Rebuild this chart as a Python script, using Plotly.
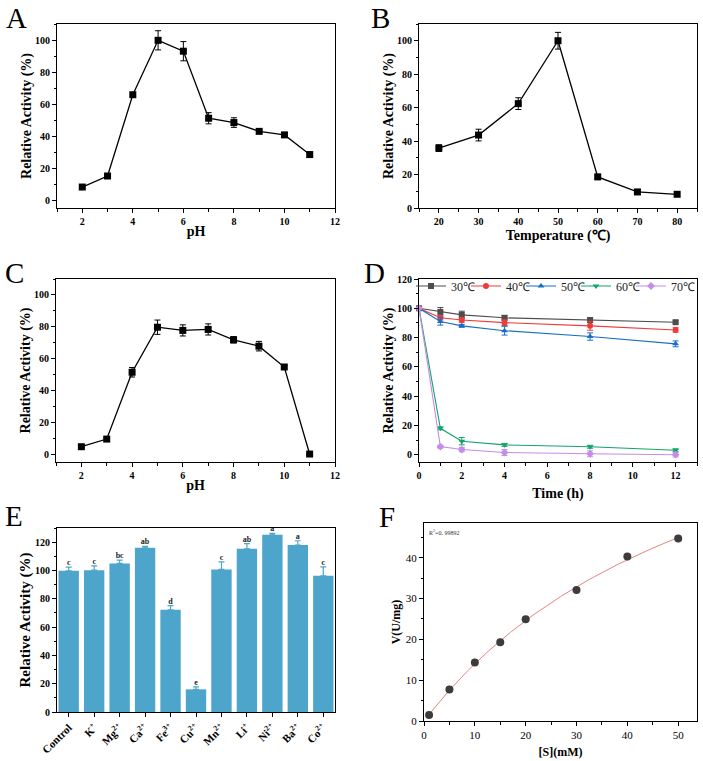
import numpy as np
import plotly.graph_objects as go

FONT = "Liberation Serif, Times New Roman, serif"

# ---------------- data ----------------
# A: effect of pH on activity
ph = [2, 3, 4, 5, 6, 7, 8, 9, 10, 11]
act_ph = [8.1, 15.0, 65.8, 99.8, 93.0, 51.1, 48.4, 42.9, 40.7, 28.4]
err_ph = [0.8, 1.0, 1.0, 6.0, 6.0, 3.5, 3.0, 1.0, 1.0, 1.5]

# B: effect of temperature on activity
temp = [20, 30, 40, 50, 60, 70, 80]
act_temp = [35.8, 43.6, 62.4, 100.0, 18.6, 9.6, 8.2]
err_temp = [2.0, 3.5, 3.5, 5.0, 1.5, 1.5, 1.0]

# C: pH stability
ph_stab = [2, 3, 4, 5, 6, 7, 8, 9, 10, 11]
act_ph_stab = [4.6, 9.4, 51.4, 79.7, 77.7, 78.3, 71.8, 67.8, 54.7, 0.0]
err_ph_stab = [0.5, 1.0, 3.0, 4.5, 3.5, 3.5, 2.0, 3.0, 1.0, 0.5]

# D: thermostability
time_h = [0, 1, 2, 4, 8, 12]
therm_labels = ["30℃", "40℃", "50℃", "60℃", "70℃"]
therm_30 = [100, 97.5, 95.5, 93.5, 92.0, 90.5]
therm_40 = [100, 93.5, 92.0, 90.2, 88.0, 85.2]
therm_50 = [100, 91.0, 88.0, 84.7, 80.7, 75.7]
therm_60 = [100, 18.0, 9.2, 6.7, 5.4, 3.0]
therm_70 = [100, 5.5, 3.5, 1.5, 0.6, 0.0]
therm_err_30 = [0.5, 3.0, 2.5, 1.5, 1.5, 1.0]
therm_err_40 = [0.5, 1.5, 1.5, 2.0, 3.0, 1.5]
therm_err_50 = [0.5, 2.5, 1.0, 3.0, 2.5, 2.0]
therm_err_60 = [0.5, 1.0, 2.5, 1.0, 1.0, 1.0]
therm_err_70 = [0.5, 1.0, 1.5, 2.0, 2.0, 1.5]

# E: metal ions
ions = ["Control", "K<sup>+</sup>", "Mg<sup>2+</sup>", "Ca<sup>2+</sup>", "Fe<sup>3+</sup>",
        "Cu<sup>2+</sup>", "Mn<sup>2+</sup>", "Li<sup>+</sup>", "Ni<sup>2+</sup>",
        "Ba<sup>2+</sup>", "Co<sup>2+</sup>"]
ion_act = [99.8, 100.2, 105.0, 116.0, 72.2, 16.0, 100.7, 115.3, 125.2, 118.0, 96.2]
ion_err = [2.5, 3.0, 2.3, 1.0, 3.0, 1.7, 5.3, 3.7, 1.0, 3.0, 6.4]
ion_sig = ["c", "c", "bc", "ab", "d", "e", "c", "ab", "a", "a", "c"]

# F: kinetics
substrate_mM = [1, 5, 10, 15, 20, 30, 40, 50]
velocity = [1.5, 7.7, 14.3, 19.3, 24.9, 32.1, 40.3, 44.7]
r2_text = "R<sup>2</sup>=0. 99892"

# ---------------- figure ----------------
W, H = 703, 761


def px_x(p):
    return p / W


def px_y(p):
    return 1 - p / H


fig = go.Figure()

BLACK = "black"


def err_line(xs, ys, errs, axis_n, color=BLACK, marker="square", size=7, name=None,
             showlegend=False, width=1.3, legend=None):
    xa = "x" if axis_n == 1 else f"x{axis_n}"
    ya = "y" if axis_n == 1 else f"y{axis_n}"
    kw = {}
    if legend is not None:
        kw["legend"] = legend
    fig.add_trace(go.Scatter(
        x=xs, y=ys, mode="lines+markers", xaxis=xa, yaxis=ya,
        line=dict(color=color, width=width),
        marker=dict(symbol=marker, size=size, color=color),
        error_y=dict(type="data", array=errs, color=color, thickness=1, width=3),
        name=name, showlegend=showlegend, cliponaxis=False, **kw))


err_line(ph, act_ph, err_ph, 1)
err_line(temp, act_temp, err_temp, 2)
err_line(ph_stab, act_ph_stab, err_ph_stab, 3)

d_series = [therm_30, therm_40, therm_50, therm_60, therm_70]
d_errs = [therm_err_30, therm_err_40, therm_err_50, therm_err_60, therm_err_70]
d_colors = ["#4d4d4d", "#ee3b3b", "#1a6fc4", "#12a46a", "#c58ce8"]
d_markers = ["square", "circle", "triangle-up", "triangle-down", "diamond"]
legend_ids = ["legend", "legend2", "legend3", "legend4", "legend5"]
for lab, ys, es, c, m, lg in zip(therm_labels, d_series, d_errs, d_colors, d_markers, legend_ids):
    err_line(time_h, ys, es, 4, color=c, marker=m, size=6, name=lab, showlegend=True,
             width=1.1, legend=lg)

BAR = "#4da5cb"
fig.add_trace(go.Bar(
    x=ions, y=ion_act, xaxis="x5", yaxis="y5", marker=dict(color=BAR, line=dict(width=0)),
    width=0.8,
    error_y=dict(type="data", symmetric=False, array=ion_err, arrayminus=[0] * len(ion_err),
                 color=BAR, thickness=1.2, width=3),
    showlegend=False))
fig.add_trace(go.Scatter(
    x=ions, y=[a + e for a, e in zip(ion_act, ion_err)], xaxis="x5", yaxis="y5",
    mode="text", text=ion_sig, textposition="top center",
    textfont=dict(family=FONT, size=8, color="#222", weight="bold"),
    showlegend=False, cliponaxis=False))

# Michaelis-Menten fit to the measured points (least squares over Km)
S = np.array(substrate_mM, float)
V = np.array(velocity, float)
best = None
for km in np.linspace(1, 300, 6000):
    f = S / (km + S)
    vmax = (V * f).sum() / (f * f).sum()
    sse = ((V - vmax * f) ** 2).sum()
    if best is None or sse < best[0]:
        best = (sse, km, vmax)
_, KM, VMAX = best
s_fit = np.linspace(S.min(), S.max(), 200)
v_fit = VMAX * s_fit / (KM + s_fit)
fig.add_trace(go.Scatter(x=s_fit, y=v_fit, xaxis="x6", yaxis="y6", mode="lines",
                         line=dict(color="#e8837f", width=1), showlegend=False))
fig.add_trace(go.Scatter(x=substrate_mM, y=velocity, xaxis="x6", yaxis="y6", mode="markers",
                         marker=dict(color="#3c3c3c", size=8), showlegend=False, cliponaxis=False))

# ---------------- axes ----------------
panels = {
    1: dict(x=(57, 335), y=(24, 208)),
    2: dict(x=(419, 697), y=(24, 208)),
    3: dict(x=(56, 335), y=(279, 462)),
    4: dict(x=(419, 697), y=(279, 462)),
    5: dict(x=(57, 335), y=(528, 712)),
    6: dict(x=(424, 697), y=(523, 721)),
}


def axis(n, which, rng, dtick, mdtick, title, tsize=10, bold=True, ttl_size=14, standoff=0,
         tickangle=None):
    p = panels[n]
    if which == "x":
        dom = [px_x(p["x"][0]), px_x(p["x"][1])]
    else:
        dom = [px_y(p["y"][1]), px_y(p["y"][0])]
    other = ("y" if n == 1 else f"y{n}") if which == "x" else ("x" if n == 1 else f"x{n}")
    d = dict(domain=dom, anchor=other, range=rng, showline=True, mirror=True,
             automargin=True,
             linecolor=BLACK, linewidth=1, ticks="outside", ticklen=4, tickwidth=1,
             tickcolor=BLACK, showgrid=False, zeroline=False,
             tickfont=dict(family=FONT, size=tsize, color=BLACK,
                           weight="bold" if bold else "normal"),
             title=dict(text=title, font=dict(family=FONT, size=ttl_size, color=BLACK,
                                              weight="bold"), standoff=standoff))
    if tickangle is not None:
        d["tickangle"] = tickangle
    if dtick is not None:
        d.update(dtick=dtick, tick0=0)
    if mdtick is not None:
        d["minor"] = dict(dtick=mdtick, tick0=0, ticks="outside", ticklen=2.5,
                          tickcolor=BLACK, tickwidth=1, showgrid=False)
    return d


layout_axes = {}
layout_axes["xaxis"] = axis(1, "x", [1, 12], 2, 1, "pH", standoff=0)
layout_axes["yaxis"] = axis(1, "y", [-5, 110], 20, 10, "Relative Activity (%)", standoff=0)
layout_axes["xaxis2"] = axis(2, "x", [15, 85], 10, 5, "Temperature (℃)", standoff=4)
layout_axes["yaxis2"] = axis(2, "y", [0, 110], 20, 10, "Relative Activity (%)", standoff=0)
layout_axes["xaxis3"] = axis(3, "x", [1, 12], 2, 1, "pH", standoff=0)
layout_axes["yaxis3"] = axis(3, "y", [-5, 110], 20, 10, "Relative Activity (%)", standoff=0)
layout_axes["xaxis4"] = axis(4, "x", [0, 13], 2, 1, "Time (h)", standoff=8)
layout_axes["yaxis4"] = axis(4, "y", [-5, 120], 20, 10, "Relative Activity (%)", standoff=0)
xe = axis(5, "x", [-0.46, 10.46], None, None, "", tsize=11, tickangle=-45)
xe["type"] = "category"
layout_axes["xaxis5"] = xe
layout_axes["yaxis5"] = axis(5, "y", [0, 130], 20, 10, "Relative Activity (%)", ttl_size=15,
                             standoff=0)
layout_axes["xaxis6"] = axis(6, "x", [0, 53.7], 10, 5, "[S](mM)", tsize=11, bold=False,
                             ttl_size=12, standoff=7)
layout_axes["yaxis6"] = axis(6, "y", [0, 48.5], 10, 5, "V(U/mg)", tsize=11, bold=False,
                             ttl_size=12, standoff=2)

fig.update_layout(**layout_axes)

# panel letters
letters = [("A", 16, 18), ("B", 380, 18), ("C", 15, 273), ("D", 375, 273), ("E", 14, 516), ("F", 387, 517)]
ann = []
for t, x, y in letters:
    ann.append(dict(text=t, x=px_x(x), y=px_y(y), xref="paper", yref="paper", showarrow=False,
                    xanchor="center", yanchor="middle",
                    font=dict(family=FONT, size=29, color=BLACK)))
ann.append(dict(text=r2_text, x=0.0, y=1.0, xref="x6 domain", yref="y6 domain", showarrow=False,
                xanchor="left", yanchor="top", xshift=3, yshift=-3,
                font=dict(family=FONT, size=6, color="#333")))
fig.update_layout(annotations=ann)

# one small legend per series so the closely packed entries are never clipped
legend_layout = {}
for i, lg in enumerate(legend_ids):
    legend_layout[lg] = dict(
        orientation="h", x=px_x(411 + i * 55), y=px_y(286), xanchor="left", yanchor="middle",
        font=dict(family=FONT, size=12, color="#222"), bgcolor="rgba(0,0,0,0)",
        itemwidth=30, borderwidth=0)

fig.update_layout(
    width=W, height=H, margin=dict(l=0, r=0, t=0, b=0, autoexpand=False),
    paper_bgcolor="white", plot_bgcolor="white",
    font=dict(family=FONT),
    **legend_layout,
)

fig.write_html("out.html", config={"displayModeBar": False},
               post_script="document.body.style.margin='0';document.body.style.padding='0';"
                           "document.documentElement.style.overflow='hidden';")
